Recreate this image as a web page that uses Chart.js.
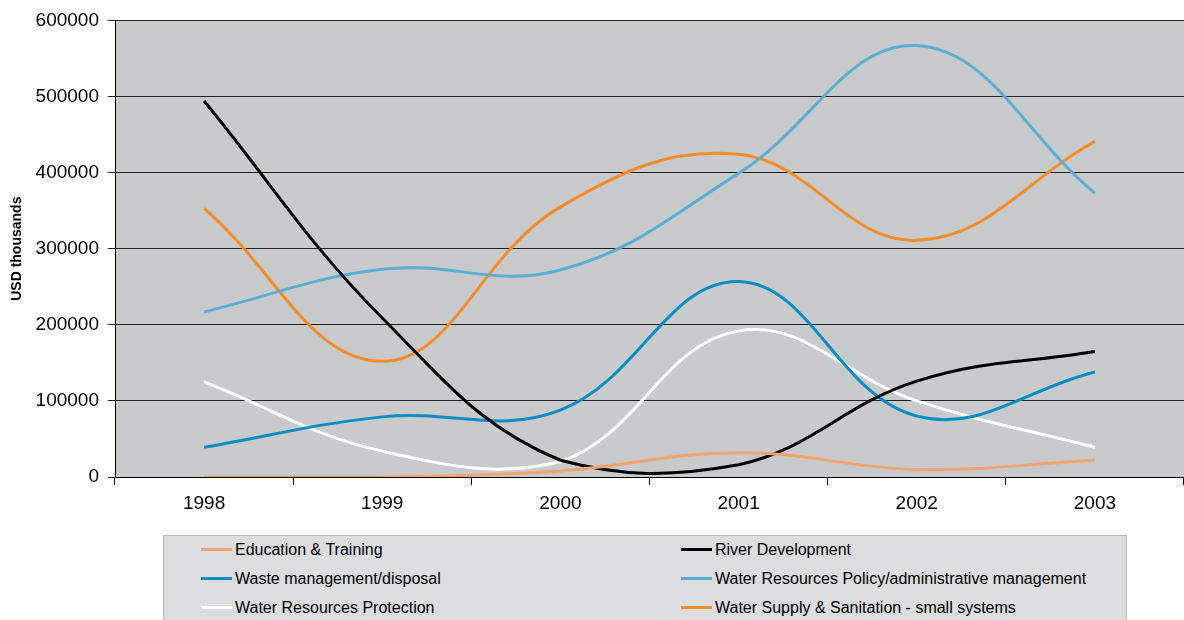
<!DOCTYPE html>
<html>
<head>
<meta charset="utf-8">
<script src="https://cdn.jsdelivr.net/npm/chart.js@4"></script>
<style>
  body { margin: 0; background: #fff; font-family: "Liberation Sans", Arial, sans-serif; }
  #wrap { position: relative; width: 1184px; height: 530px; }
  #legend {
    position: absolute; left: 163px; top: 535px; width: 964px; height: 90px;
    background: #dcdddf; border: 1px solid #b8b8b8; box-sizing: border-box;
  }
  .item { position: absolute; font-size: 16px; color: #000; line-height: 18px; white-space: nowrap; }
  .item span.sw { display: inline-block; width: 31px; height: 3px; vertical-align: middle; margin-right: 3px; position: relative; top: -1px; }
</style>
</head>
<body>
<div id="wrap"><canvas id="myChart"></canvas></div>
<div id="legend"></div>
<script>
const anos = ['1998', '1999', '2000', '2001', '2002', '2003']
const educacao = [0, 0, 8000, 32000, 10000, 22000]
const rio = [494000, 209000, 22000, 16000, 126000, 165000]
const residuos = [39000, 79000, 88000, 257000, 80000, 138000]
const politica = [217000, 273000, 272000, 399000, 567000, 373000]
const protecao = [125000, 34000, 20000, 192000, 100000, 39000]
const abastecimento = [353000, 152000, 355000, 424000, 311000, 441000]

const series = [
  { label: 'Education & Training', data: educacao, color: '#f2a46e' },
  { label: 'River Development', data: rio, color: '#000000' },
  { label: 'Waste management/disposal', data: residuos, color: '#0a8cc4' },
  { label: 'Water Resources Policy/administrative management', data: politica, color: '#5aaed4' },
  { label: 'Water Resources Protection', data: protecao, color: '#ffffff' },
  { label: 'Water Supply & Sanitation - small systems', data: abastecimento, color: '#f28c2a' }
]

const fundo = {
  id: 'fundo',
  beforeDraw(chart) {
    const a = chart.chartArea
    const c = chart.ctx
    c.save()
    c.fillStyle = '#c9cacc'
    c.fillRect(a.left, a.top, a.right - a.left, a.bottom - a.top)
    c.restore()
  }
}

const ctx = document.getElementById('myChart')

let grafico = new Chart(ctx, {
  type: 'line',
  data: {
    labels: anos,
    datasets: series.map(s => ({
      label: s.label,
      data: s.data,
      borderColor: s.color,
      backgroundColor: s.color,
      borderWidth: 3,
      pointRadius: 0,
      tension: 0.4,
      fill: false
    }))
  },
  options: {
    responsive: true,
    maintainAspectRatio: false,
    animation: false,
    layout: { padding: { top: 20, right: 0, left: 0, bottom: 0 } },
    plugins: {
      legend: { display: false },
      tooltip: { enabled: false }
    },
    scales: {
      x: {
        offset: true,
        grid: { offset: true, drawOnChartArea: false, drawTicks: true, tickLength: 8, color: '#000' },
        border: { color: '#000', width: 1 },
        ticks: { color: '#000', font: { family: 'Liberation Sans', size: 19 }, padding: 7 },
        afterFit: s => { s.height = 53 }
      },
      y: {
        min: 0,
        max: 600000,
        grid: { color: '#222', tickLength: 7, lineWidth: 1 },
        border: { color: '#000', width: 1 },
        ticks: {
          stepSize: 100000, color: '#000', padding: 9,
          font: { family: 'Liberation Sans', size: 19 },
          callback: v => String(v)
        },
        title: { display: true, text: 'USD thousands', color: '#000', font: { family: 'Liberation Sans', size: 14, weight: 'bold' }, padding: { top: 9, bottom: 0 } },
        afterFit: s => { s.width = 115 }
      }
    }
  },
  plugins: [fundo]
})

// legenda em duas colunas
const leg = document.getElementById('legend')
series.forEach((s, i) => {
  const col = i % 2
  const row = Math.floor(i / 2)
  const d = document.createElement('div')
  d.className = 'item'
  d.style.left = (col === 0 ? 37 : 517) + 'px'
  d.style.top = (5 + row * 29) + 'px'
  d.innerHTML = '<span class="sw" style="background:' + s.color + '"></span>' + s.label.replace('&', '&amp;')
  leg.appendChild(d)
})
</script>
</body>
</html>
